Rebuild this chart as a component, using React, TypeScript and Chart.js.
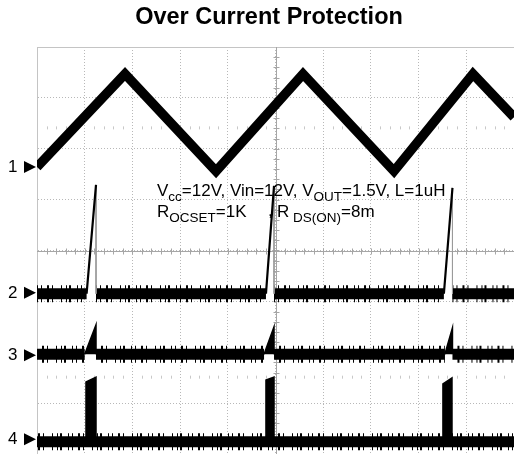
import { useEffect, useRef } from "react";
import { Chart, registerables } from "chart.js";

Chart.register(...registerables);

const CANVAS_W = 514;
const CANVAS_H = 454;

// Scope screen in divisions
const xDivisions = 10;
const yDivisions = 8;

// CH1: inductor current, triangle vertices (time div, level div)
const ch1Time = [0, 1.845, 3.753, 5.577, 7.484, 9.14, 10];
const ch1Level = [5.64, 7.47, 5.56, 7.47, 5.56, 7.47, 6.62];

// Over-current trip instants (div)
const tripTime = [1.237, 4.969, 8.71];

// CH2: current-sense ramp
const ch2Level = 3.15;
const ch2RampStart = [1.04, 4.8, 8.53];
const ch2Peak = [5.29, 5.27, 5.23];

// CH3: OCSET comparator input
const ch3Level = 1.96;
const ch3RampStart = [1.0, 4.76, 8.55];
const ch3Peak = [2.54, 2.5, 2.48];

// CH4: gate pulses at the trip
const ch4Level = 0.24;
const ch4PulseStart = [1.027, 4.8, 8.51];
const ch4PulseEnd = [1.237, 4.969, 8.7];
const ch4TopStart = [1.415, 1.455, 1.376];
const ch4TopEnd = [1.51, 1.51, 1.494];

// Channel ground markers
const markerLabels = ["1", "2", "3", "4"];
const markerLevels = [5.64, 3.17, 1.94, 0.29];

// Rows of cursor ticks (div)
const cursorRows = [6.41, 1.51];

const titleText = "Over Current Protection";
type Run = [string, boolean];
const noteLine1: Run[] = [
  ["V", false],
  ["cc", true],
  ["=12V, Vin=12V, V", false],
  ["OUT", true],
  ["=1.5V, L=1uH", false],
];
const noteLine2a: Run[] = [
  ["R", false],
  ["OCSET", true],
  ["=1K", false],
];
const noteLine2b: Run[] = [
  ["R", false],
  [" DS(ON)", true],
  ["=8m", false],
];

type Pt = { x: number; y: number | null };

function bandWithGaps(level: number, from: number[], to: number[]): Pt[] {
  const pts: Pt[] = [{ x: 0, y: level }];
  from.forEach((s, i) => {
    pts.push({ x: s, y: level });
    pts.push({ x: (s + to[i]) / 2, y: null });
    pts.push({ x: to[i], y: level });
  });
  pts.push({ x: xDivisions, y: level });
  return pts;
}

function ramps(level: number, from: number[], at: number[], peak: number[]): Pt[] {
  const pts: Pt[] = [];
  from.forEach((s, i) => {
    pts.push({ x: s, y: level });
    pts.push({ x: at[i], y: peak[i] });
    pts.push({ x: at[i] + 0.01, y: null });
  });
  return pts;
}

function wedges(level: number, from: number[], at: number[], peak: number[]): Pt[] {
  const pts: Pt[] = [];
  from.forEach((s, i) => {
    pts.push({ x: s, y: level });
    pts.push({ x: at[i], y: peak[i] });
    pts.push({ x: at[i], y: level });
    pts.push({ x: at[i] + 0.01, y: null });
  });
  return pts;
}

function drops(level: number, at: number[], peak: number[]): Pt[] {
  const pts: Pt[] = [];
  at.forEach((t, i) => {
    pts.push({ x: t, y: peak[i] });
    pts.push({ x: t, y: level });
    pts.push({ x: t + 0.01, y: null });
  });
  return pts;
}

function pulses(level: number): Pt[] {
  const pts: Pt[] = [];
  ch4PulseStart.forEach((s, i) => {
    pts.push({ x: s, y: level });
    pts.push({ x: s, y: ch4TopStart[i] });
    pts.push({ x: ch4PulseEnd[i], y: ch4TopEnd[i] });
    pts.push({ x: ch4PulseEnd[i], y: level });
    pts.push({ x: ch4PulseEnd[i] + 0.01, y: null });
  });
  return pts;
}

const FONT = '"Liberation Sans", Arial, Helvetica, sans-serif';
const noiseDash = [1, 3, 1, 5, 2, 3, 1, 8, 1, 4, 1, 2, 2, 6];

function drawRuns(ctx: CanvasRenderingContext2D, x: number, y: number, runs: Run[]) {
  let cx = x;
  for (const [t, sub] of runs) {
    ctx.font = sub ? `13.5px ${FONT}` : `17px ${FONT}`;
    ctx.fillText(t, cx, sub ? y + 5 : y);
    cx += ctx.measureText(t).width;
  }
}

const scopeDecor = {
  id: "scopeDecor",
  beforeDatasetsDraw(chart: any) {
    const { ctx, chartArea, scales } = chart;
    const xs = scales.x;
    const ys = scales.y;
    ctx.save();
    ctx.lineWidth = 1;
    // top frame
    ctx.strokeStyle = "#c4c4c4";
    ctx.beginPath();
    ctx.moveTo(chartArea.left, chartArea.top + 0.5);
    ctx.lineTo(chartArea.right, chartArea.top + 0.5);
    ctx.stroke();
    // centre cross with minor ticks
    const cx = Math.round(xs.getPixelForValue(xDivisions / 2)) + 0.5;
    const cy = Math.round(ys.getPixelForValue(yDivisions / 2)) + 0.5;
    ctx.strokeStyle = "#a6a6a6";
    ctx.beginPath();
    ctx.moveTo(chartArea.left, cy);
    ctx.lineTo(chartArea.right, cy);
    ctx.moveTo(cx, chartArea.top);
    ctx.lineTo(cx, chartArea.bottom);
    for (let v = 0.2; v < xDivisions; v += 0.2) {
      const px = Math.round(xs.getPixelForValue(v)) + 0.5;
      ctx.moveTo(px, cy - 3);
      ctx.lineTo(px, cy + 3);
    }
    for (let v = 0.2; v < yDivisions; v += 0.2) {
      const py = Math.round(ys.getPixelForValue(v)) + 0.5;
      ctx.moveTo(cx - 3, py);
      ctx.lineTo(cx + 3, py);
    }
    ctx.stroke();
    // cursor tick rows
    ctx.strokeStyle = "#c8c8c8";
    ctx.beginPath();
    for (const row of cursorRows) {
      const py = ys.getPixelForValue(row);
      for (let v = 0.2; v < xDivisions; v += 0.2) {
        if (Math.abs(v - Math.round(v)) < 0.05) continue;
        const px = Math.round(xs.getPixelForValue(v)) + 0.5;
        ctx.moveTo(px, py - 1.5);
        ctx.lineTo(px, py + 1.5);
      }
    }
    ctx.stroke();
    ctx.restore();
  },
  afterDraw(chart: any) {
    const { ctx, scales } = chart;
    const ys = scales.y;
    ctx.save();
    ctx.fillStyle = "#000";
    ctx.textBaseline = "alphabetic";
    // title
    ctx.font = `bold 23.5px ${FONT}`;
    ctx.textAlign = "center";
    ctx.fillText(titleText, 269, 24);
    // channel markers
    ctx.textAlign = "left";
    ctx.font = `17px ${FONT}`;
    markerLabels.forEach((lab, i) => {
      const py = ys.getPixelForValue(markerLevels[i]);
      ctx.textBaseline = "middle";
      ctx.fillText(lab, 8, py + 0.5);
      ctx.beginPath();
      ctx.moveTo(24, py - 6);
      ctx.lineTo(36, py);
      ctx.lineTo(24, py + 6);
      ctx.closePath();
      ctx.fill();
    });
    // test conditions
    ctx.textBaseline = "alphabetic";
    drawRuns(ctx, 157, 196, noteLine1);
    drawRuns(ctx, 157, 217, noteLine2a);
    ctx.font = `17px ${FONT}`;
    ctx.fillText(",", 268, 216);
    drawRuns(ctx, 277, 217, noteLine2b);
    ctx.restore();
  },
};

export default function App() {
  const ref = useRef<HTMLCanvasElement>(null);

  useEffect(() => {
    if (!ref.current) return;
    const black = "#000000";
    const line = (data: Pt[], width: number, color = black, extra: any = {}) => ({
      data,
      borderColor: color,
      borderWidth: width,
      pointRadius: 0,
      tension: 0,
      spanGaps: false,
      fill: false,
      ...extra,
    });
    const ch1 = ch1Time.map((t, i) => ({ x: t, y: ch1Level[i] }));
    const ch2Band = bandWithGaps(ch2Level, ch2RampStart, tripTime);
    const ch3Band = bandWithGaps(ch3Level, ch3RampStart, tripTime);
    const ch4Band: Pt[] = [
      { x: 0, y: ch4Level },
      { x: xDivisions, y: ch4Level },
    ];

    const chart = new Chart(ref.current, {
      type: "line",
      data: {
        datasets: [
          line(ch1, 9.5, black, { borderJoinStyle: "miter" }),
          line(ramps(ch2Level, ch2RampStart, tripTime, ch2Peak), 2.2),
          line(drops(ch2Level, tripTime, ch2Peak), 1, "#9a9a9a"),
          line(wedges(ch3Level, ch3RampStart, tripTime, ch3Peak), 1.5, black, {
            fill: { value: ch3Level },
            backgroundColor: black,
          }),
          line(pulses(ch4Level), 1.5, black, {
            fill: { value: ch4Level },
            backgroundColor: black,
          }),
          line(ch2Band, 11),
          line(ch2Band, 17, black, { borderDash: noiseDash }),
          line(ch3Band, 11),
          line(ch3Band, 17, black, { borderDash: noiseDash, borderDashOffset: 5 }),
          line(ch4Band, 11),
          line(ch4Band, 17, black, { borderDash: noiseDash, borderDashOffset: 9 }),
        ],
      },
      options: {
        responsive: false,
        animation: false,
        events: [],
        layout: { padding: { left: 37, top: 47, right: 0, bottom: 0 } },
        plugins: {
          legend: { display: false },
          title: { display: false },
          tooltip: { enabled: false },
        },
        scales: {
          x: {
            type: "linear",
            min: 0,
            max: xDivisions,
            ticks: { display: false, stepSize: 1 },
            grid: { color: "#b8b8b8", drawTicks: false },
            border: { display: true, color: "#c4c4c4", dash: [1, 2] },
          },
          y: {
            type: "linear",
            min: 0,
            max: yDivisions,
            ticks: { display: false, stepSize: 1 },
            grid: { color: "#b8b8b8", drawTicks: false },
            border: { display: true, color: "#c4c4c4", dash: [1, 2] },
          },
        },
      },
      plugins: [scopeDecor],
    });
    return () => chart.destroy();
  }, []);

  return (
    <div style={{ position: "fixed", left: 0, top: 0, width: CANVAS_W, height: CANVAS_H, background: "#fff" }}>
      <canvas ref={ref} width={CANVAS_W} height={CANVAS_H} style={{ display: "block" }} />
    </div>
  );
}
